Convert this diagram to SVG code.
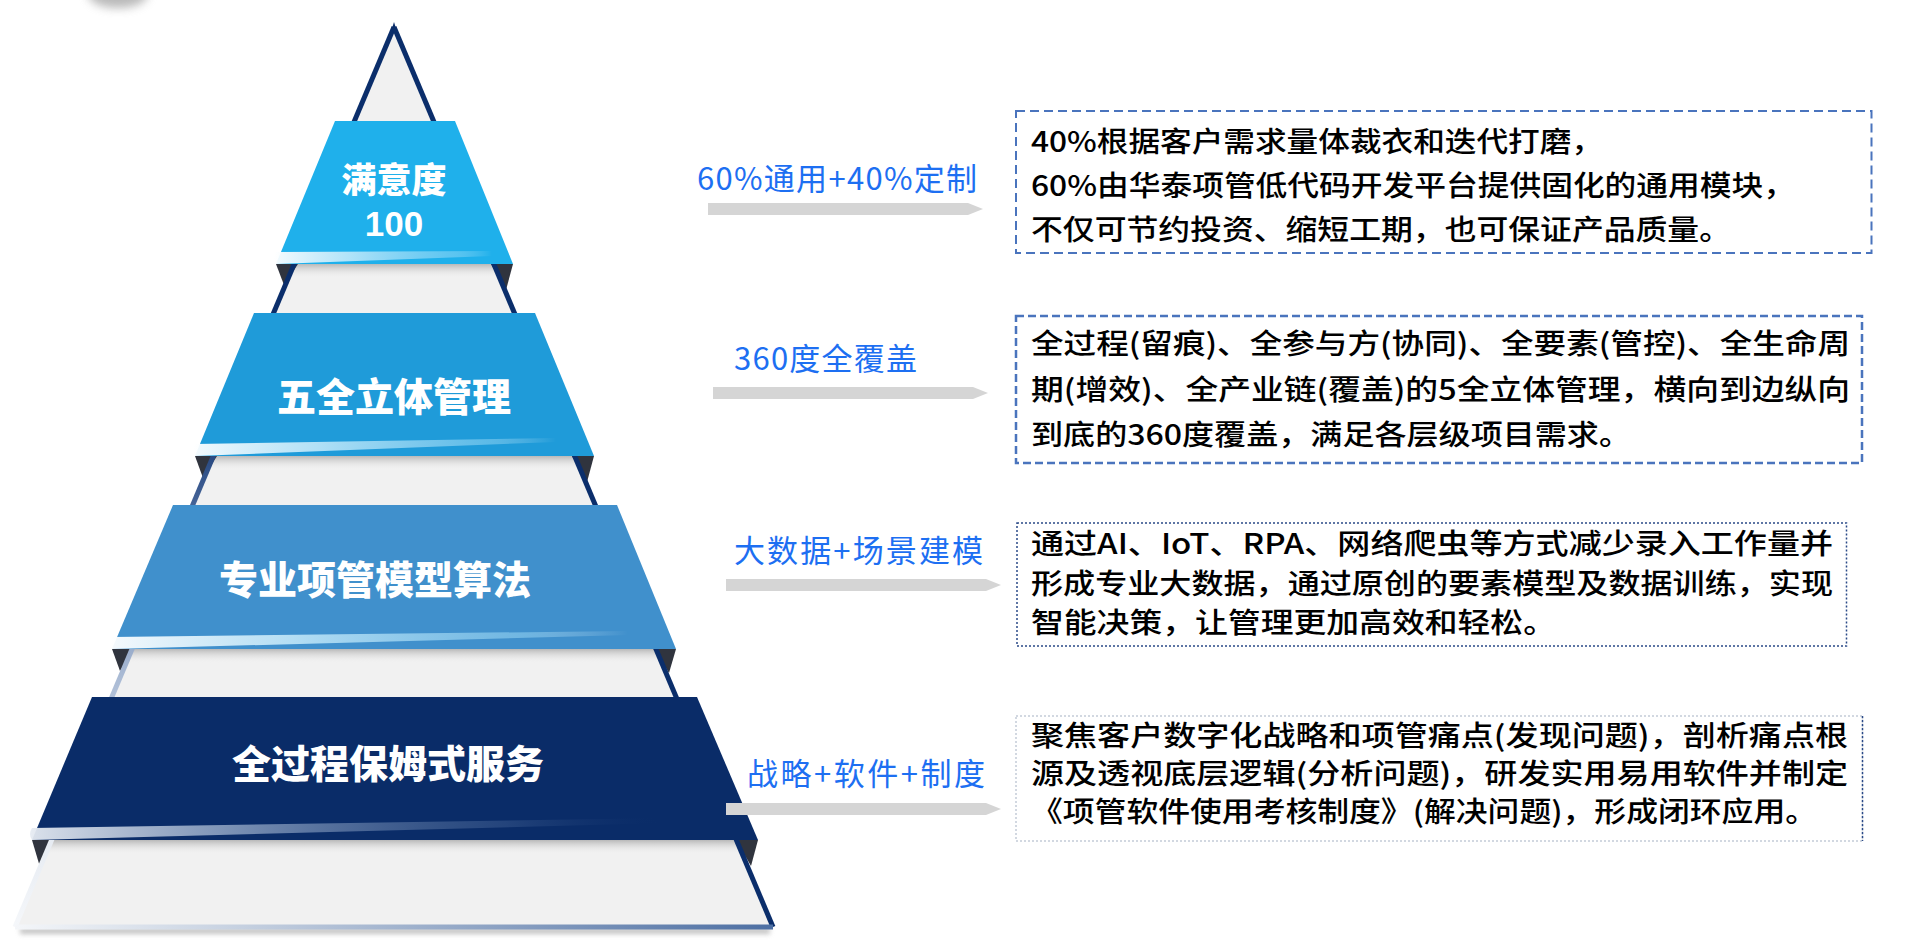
<svg xmlns="http://www.w3.org/2000/svg" width="1920" height="942" viewBox="0 0 1920 942">
<style>
.bt{font-family:"Noto Sans CJK SC","Noto Sans",sans-serif;font-weight:900;fill:#ffffff;text-anchor:middle}
.num{font-family:"Liberation Sans","Noto Sans",sans-serif;font-weight:700;fill:#ffffff;text-anchor:middle}
.lb{font-family:"Noto Sans CJK SC","Noto Sans",sans-serif;font-size:31px;fill:#1d6ff2}
.tx{font-family:"Noto Sans CJK SC","Noto Sans",sans-serif;font-size:28.5px;font-weight:500;fill:#000000}
.arrow{fill:#d5d5d5}
.wedge{fill:#30343e}
.sh{fill:url(#shadowGrad)}
</style>
<defs>
<linearGradient id="shadowGrad" x1="0" y1="0" x2="0" y2="1">
<stop offset="0" stop-color="#8a8a8a" stop-opacity="0.55"/>
<stop offset="1" stop-color="#f1f1f1" stop-opacity="0"/>
</linearGradient>
<linearGradient id="leftEdge" gradientUnits="userSpaceOnUse" x1="0" y1="27" x2="0" y2="927">
<stop offset="0" stop-color="#0b2e6b"/>
<stop offset="0.42" stop-color="#0b2e6b"/>
<stop offset="0.55" stop-color="#4f6d9f"/>
<stop offset="0.72" stop-color="#a9bad4"/>
<stop offset="0.9" stop-color="#e6ebf2"/>
<stop offset="1" stop-color="#f5f7fa"/>
</linearGradient>
<linearGradient id="bottomEdge" gradientUnits="userSpaceOnUse" x1="15" y1="0" x2="773" y2="0">
<stop offset="0" stop-color="#f4f6f9"/>
<stop offset="0.3" stop-color="#c5d0e0"/>
<stop offset="1" stop-color="#4d6fa3"/>
</linearGradient>
<linearGradient id="hlBlue" x1="0" y1="0" x2="1" y2="0">
<stop offset="0" stop-color="#ffffff" stop-opacity="0.95"/>
<stop offset="0.35" stop-color="#c9ecfb" stop-opacity="0.85"/>
<stop offset="0.8" stop-color="#9fdcf7" stop-opacity="0.5"/>
<stop offset="1" stop-color="#ffffff" stop-opacity="0"/>
</linearGradient>
<linearGradient id="hlNavy" x1="0" y1="0" x2="1" y2="0">
<stop offset="0" stop-color="#e6ebf2" stop-opacity="0.95"/>
<stop offset="0.3" stop-color="#9db0cc" stop-opacity="0.8"/>
<stop offset="0.75" stop-color="#4a6899" stop-opacity="0.4"/>
<stop offset="1" stop-color="#0a2c68" stop-opacity="0"/>
</linearGradient>
<clipPath id="triClip">
<polygon points="394,27 15,927 773,927"/>
</clipPath>
<filter id="blur5" x="-50%" y="-50%" width="200%" height="200%">
<feGaussianBlur stdDeviation="5"/>
</filter>
<filter id="blur2" x="-10%" y="-100%" width="120%" height="300%">
<feGaussianBlur stdDeviation="2.5"/>
</filter>
</defs>

<rect width="1920" height="942" fill="#ffffff"/>

<!-- top-left blurred gray fragment -->
<ellipse cx="118" cy="-6" rx="30" ry="14" fill="#8c8c8c" opacity="0.6" filter="url(#blur5)"/>

<!-- pyramid body -->
<g id="pyramid">
<rect x="20" y="928" width="750" height="6" fill="#9a9a9a" opacity="0.6" filter="url(#blur2)"/>
<polygon points="394,27 15,927 773,927" fill="#f1f1f1"/>
<g clip-path="url(#triClip)">
<rect class="sh" x="0" y="264" width="800" height="14"/>
<rect class="sh" x="0" y="456" width="800" height="14"/>
<rect class="sh" x="0" y="649" width="800" height="14"/>
<rect class="sh" x="0" y="840" width="800" height="14"/>
</g>
<polygon class="wedge" points="276,264 298,264 284,285"/>
<polygon class="wedge" points="491,264 513,264 506,290"/>
<polygon class="wedge" points="195,456 217,456 203,478"/>
<polygon class="wedge" points="572,456 594,456 587,482"/>
<polygon class="wedge" points="112,649 134,649 120,671"/>
<polygon class="wedge" points="654,649 676,649 669,673"/>
<polygon class="wedge" points="32,840 52,840 40,867"/>
<polygon class="wedge" points="736,840 758,840 751,866"/>
<line x1="394" y1="27" x2="15" y2="927" stroke="url(#leftEdge)" stroke-width="5"/>
<line x1="394" y1="27" x2="773" y2="927" stroke="#0b2e6b" stroke-width="5"/>
<line x1="15" y1="927" x2="773" y2="927" stroke="url(#bottomEdge)" stroke-width="5"/>
<path d="M394,22 L391.5,30 L396.5,30 Z" fill="#0b2e6b"/>
</g>

<g id="tier-1">
<polygon points="335,121 455,121 513,264 276,264" fill="#1fb0eb"/>
<path d="M276,252 L492,251 L492,256 L276,264 Q272,258 276,252 Z" fill="url(#hlBlue)"/>
<text class="bt" x="394" y="193" font-size="35">满意度</text>
<text class="num" x="394" y="236" font-size="35">100</text>
</g>

<g id="tier-2">
<polygon points="254,313 535,313 594,456 195,456" fill="#1f9bd9"/>
<path d="M195,444 L556,438 L556,442 L195,456 Q191,450 195,444 Z" fill="url(#hlBlue)"/>
<text class="bt" x="394" y="411" font-size="39">五全立体管理</text>
</g>

<g id="tier-3">
<polygon points="173,505 617,505 676,649 112,649" fill="#4090cc"/>
<path d="M112,637 L628,631 L628,635 L112,649 Q108,643 112,637 Z" fill="url(#hlBlue)"/>
<text class="bt" x="375" y="594" font-size="39">专业项管模型算法</text>
</g>

<g id="tier-4">
<polygon points="92,697 697,697 758,840 32,840" fill="#0a2c68"/>
<path d="M32,828 L665,818 L665,823 L32,840 Q28,834 32,828 Z" fill="url(#hlNavy)"/>
<text class="bt" x="388" y="778" font-size="39">全过程保姆式服务</text>
</g>

<!-- connectors -->
<g id="connectors">
<polygon class="arrow" points="708,203 968,203 983,209 968,215 708,215"/>
<polygon class="arrow" points="713,387 973,387 988,393 973,399 713,399"/>
<polygon class="arrow" points="726,579 986,579 1001,585 986,591 726,591"/>
<polygon class="arrow" points="726,803 986,803 1001,809 986,815 726,815"/>
</g>

<g id="label-1"><text class="lb" x="697" y="190" textLength="280">60%通用+40%定制</text></g>
<g id="label-2"><text class="lb" x="734" y="370" font-size="28" textLength="183">360度全覆盖</text></g>
<g id="label-3"><text class="lb" x="734" y="562" textLength="249">大数据+场景建模</text></g>
<g id="label-4"><text class="lb" x="747" y="785" textLength="238">战略+软件+制度</text></g>

<g id="box-1">
<rect x="1016" y="111" width="855.5" height="142" fill="none" stroke="#4a74bd" stroke-width="2" stroke-dasharray="9 5"/>
<text class="tx" x="1031" y="152" textLength="572" lengthAdjust="spacingAndGlyphs">40%根据客户需求量体裁衣和迭代打磨，</text>
<text class="tx" x="1031" y="195.5" textLength="764" lengthAdjust="spacingAndGlyphs">60%由华泰项管低代码开发平台提供固化的通用模块，</text>
<text class="tx" x="1031" y="239.5" textLength="700" lengthAdjust="spacingAndGlyphs">不仅可节约投资、缩短工期，也可保证产品质量。</text>
</g>

<g id="box-2">
<rect x="1016" y="316" width="846" height="147" fill="none" stroke="#4a74bd" stroke-width="2.5" stroke-dasharray="8 4"/>
<text class="tx" x="1031" y="353.5" textLength="819" lengthAdjust="spacingAndGlyphs">全过程(留痕)、全参与方(协同)、全要素(管控)、全生命周</text>
<text class="tx" x="1031" y="399.5" textLength="819" lengthAdjust="spacingAndGlyphs">期(增效)、全产业链(覆盖)的5全立体管理，横向到边纵向</text>
<text class="tx" x="1031" y="444.5" textLength="600" lengthAdjust="spacingAndGlyphs">到底的360度覆盖，满足各层级项目需求。</text>
</g>

<g id="box-3">
<rect x="1017" y="523" width="829.5" height="123" fill="none" stroke="#2a4a88" stroke-width="1.5" stroke-dasharray="2 2"/>
<text class="tx" x="1031" y="554" font-size="27" textLength="802" lengthAdjust="spacingAndGlyphs">通过AI、IoT、RPA、网络爬虫等方式减少录入工作量并</text>
<text class="tx" x="1031" y="593.5" font-size="27" textLength="802" lengthAdjust="spacingAndGlyphs">形成专业大数据，通过原创的要素模型及数据训练，实现</text>
<text class="tx" x="1031" y="633" font-size="27" textLength="525" lengthAdjust="spacingAndGlyphs">智能决策，让管理更加高效和轻松。</text>
</g>

<g id="box-4">
<rect x="1016" y="716" width="846.5" height="125" fill="none" stroke="#c4ccd8" stroke-width="1.5" stroke-dasharray="2 2"/>
<line x1="1862.5" y1="716" x2="1862.5" y2="841" stroke="#2a4a88" stroke-width="1.5" stroke-dasharray="2 2"/>
<text class="tx" x="1031" y="746" font-size="26" textLength="817" lengthAdjust="spacingAndGlyphs">聚焦客户数字化战略和项管痛点(发现问题)，剖析痛点根</text>
<text class="tx" x="1031" y="784" font-size="26" textLength="817" lengthAdjust="spacingAndGlyphs">源及透视底层逻辑(分析问题)，研发实用易用软件并制定</text>
<text class="tx" x="1031" y="822" font-size="26" textLength="786" lengthAdjust="spacingAndGlyphs">《项管软件使用考核制度》(解决问题)，形成闭环应用。</text>
</g>
</svg>
